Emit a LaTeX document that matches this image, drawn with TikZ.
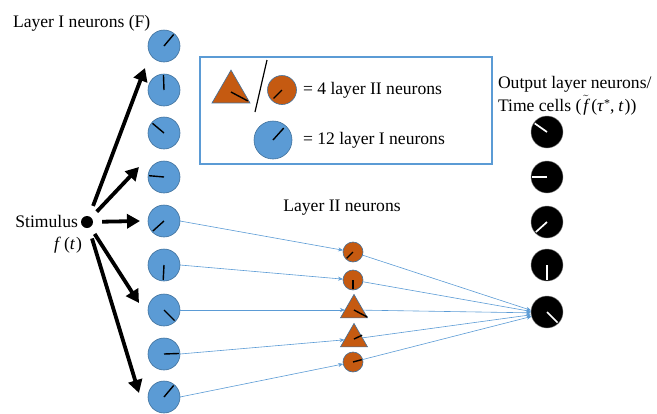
\documentclass[tikz,border=0pt]{standalone}
\usepackage{fontspec}
\setmainfont{Liberation Serif}
\usetikzlibrary{arrows.meta,shapes.geometric}
\definecolor{nblue}{HTML}{5B9BD5}
\definecolor{nedge}{HTML}{41719C}
\definecolor{norange}{HTML}{C55A11}
\begin{document}
\begin{tikzpicture}[x=1pt,y=-1pt,
  txt/.style={font=\fontsize{17.6}{21}\selectfont,inner sep=0pt,outer sep=0pt},
  lone/.style={circle,fill=nblue,draw=nedge,line width=0.6pt,minimum size=32pt,inner sep=0pt,outer sep=0pt},
  ltwo/.style={circle,fill=norange,draw=nedge,line width=0.6pt,minimum size=20pt,inner sep=0pt,outer sep=0pt},
  ltri/.style={regular polygon,regular polygon sides=3,fill=norange,draw=nedge,line width=0.6pt,minimum size=31.2pt,inner sep=0pt,outer sep=0pt},
  outn/.style={circle,fill=black,draw=gray,line width=0.4pt,minimum size=32pt,inner sep=0pt,outer sep=0pt},
  hand/.style={line width=1.4pt,black},
  whand/.style={line width=1.7pt,white},
  bigarrow/.style={line width=3.8pt,-{Triangle[length=13pt,width=14pt]}},
  thinarrow/.style={nblue,line width=0.6pt,-{Stealth[length=5pt,width=4pt]}}]
\useasboundingbox (0,0) rectangle (657,413);

% titles
\node[txt,anchor=base west] (t1) at (13,27) {Layer I neurons (F)};
\node[txt,anchor=base] (t2) at (342,211) {Layer II neurons};
\node[txt,anchor=north west,align=left,font=\fontsize{17.6}{23}\selectfont] (t3) at (498,76)
  {Output layer neurons/\\Time cells (\hspace{2pt}$\tilde{\textit{f}}$\hspace{3pt}(\textit{τ}\raisebox{4pt}{\fontsize{12}{12}\selectfont *},\hspace{4pt}\textit{t}\hspace{1pt}))};

% stimulus
\node[circle,fill=black,minimum size=12pt,inner sep=0pt] (S) at (87,222) {};
\node[txt,anchor=base east] (st) at (78,227) {Stimulus};
\node[txt,anchor=base east] (ft) at (82,249) {\textit{f}\hspace{3pt}(\textit{t}\hspace{1pt})};

% layer I
\foreach \i/\y/\a in {1/46/50,2/90/92,3/133/140,4/177/175,5/221/222,6/265/267,7/310/315,8/354/2,9/397/50}{
  \node[lone] (L\i) at (164,\y) {};
  \draw[hand] (L\i.center) -- ++(\a:15pt);
}

% layer II
\node[ltwo] (N1) at (353,252) {};
\node[ltwo] (N2) at (353,280) {};
\node[ltri] (N3) at (354,310) {};
\node[ltri] (N4) at (354,339) {};
\node[ltwo] (N5) at (353,362) {};
\draw[hand] (N1.center) -- ++(225:9pt);
\draw[hand] (N2.center) -- ++(270:9pt);
\draw[hand] (N3.center) -- ++(-28:15pt);
\draw[hand] (N4.center) -- ++(25:9pt);
\draw[hand] (N5.center) -- ++(15:9pt);

% output
\foreach \i/\y/\a in {1/132/145,2/177/180,3/222/222,4/265/270,5/312/315}{
  \node[outn] (O\i) at (547,\y) {};
  \draw[whand] (O\i.center) -- ++(\a:15pt);
}

% thick arrows
\coordinate (a1) at (145,68);
\coordinate (a2) at (139,167);
\coordinate (a3) at (140,221);
\coordinate (a4) at (139,303);
\coordinate (a5) at (139,393);
\draw[bigarrow,shorten <=11pt] (S) -- (a1);
\draw[bigarrow,shorten <=8pt] (S) -- (a2);
\draw[bigarrow,shorten <=9pt] (S) -- (a3);
\draw[bigarrow,shorten <=8pt] (S) -- (a4);
\draw[bigarrow,shorten <=11pt] (S) -- (a5);

% thin arrows
\draw[thinarrow] (L5.east) -- (N1);
\draw[thinarrow] (L6.east) -- (N2);
\draw[thinarrow] (L7.east) -- (N3);
\draw[thinarrow] (L8.east) -- (N4);
\draw[thinarrow] (L9.east) -- (N5);
\draw[thinarrow] (N1) -- (O5.174);
\draw[thinarrow] (N2) -- (O5.178);
\draw[thinarrow] (N3) -- (O5.183);
\draw[thinarrow] (N4) -- (O5.190);
\draw[thinarrow] (N5) -- (O5.196);

% legend
\node[draw=nblue,line width=1.2pt,minimum width=292pt,minimum height=107pt,inner sep=0pt] (box) at (346,110.5) {};
\node[regular polygon,regular polygon sides=3,fill=norange,draw=nedge,line width=0.6pt,minimum size=43.9pt,inner sep=0pt,outer sep=0pt] (LT) at (231,92) {};
\draw[hand] (LT.center) -- ++(-28:19pt);
\coordinate (s1) at (267,60);
\coordinate (s2) at (255,112);
\draw[line width=1.2pt] (s1) -- (s2);
\node[circle,fill=norange,draw=nedge,line width=0.6pt,minimum size=29pt,inner sep=0pt] (LC) at (282,90) {};
\draw[hand] (LC.center) -- ++(225:12pt);
\node[circle,fill=nblue,draw=nedge,line width=0.6pt,minimum size=38pt,inner sep=0pt] (LB) at (273,140) {};
\draw[hand] (LB.center) -- ++(48:16pt);
\node[txt,anchor=base west] (lt1) at (303,94) {= 4 layer II neurons};
\node[txt,anchor=base west] (lt2) at (303,144) {= 12 layer I neurons};
\end{tikzpicture}
\end{document}
